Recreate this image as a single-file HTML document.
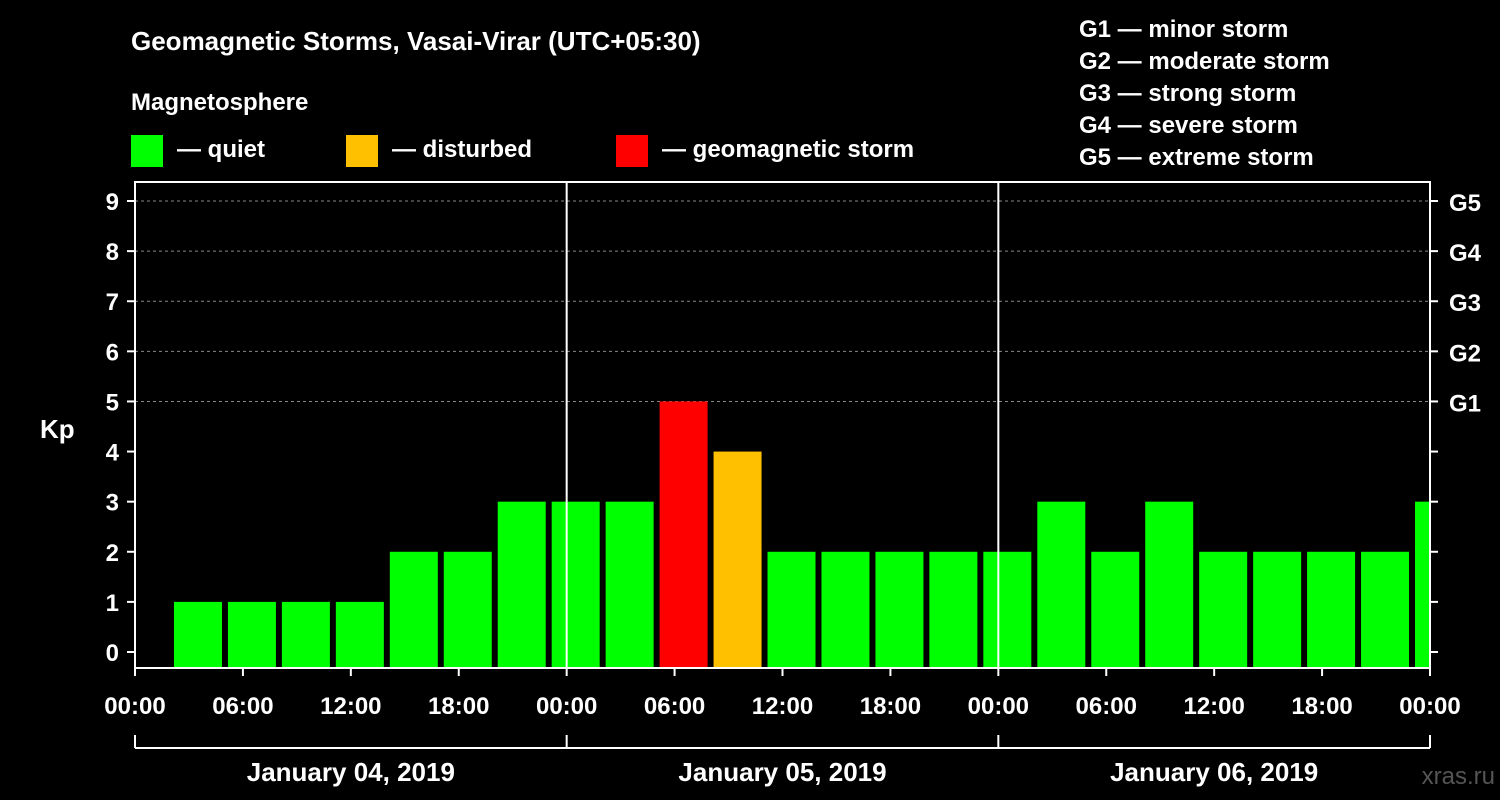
<!DOCTYPE html>
<html><head><meta charset="utf-8"><style>
html,body{margin:0;padding:0;background:#000;}
svg{display:block;font-family:"Liberation Sans",Arial,sans-serif;font-weight:bold;}
</style></head><body>
<svg id="c" width="1500" height="800" viewBox="0 0 1500 800">
<rect width="1500" height="800" fill="#000"/>
<text x="131" y="50" fill="#fff" font-size="26">Geomagnetic Storms, Vasai-Virar (UTC+05:30)</text>
<text x="131" y="110" fill="#fff" font-size="24">Magnetosphere</text>
<g><rect x="131" y="135" width="32" height="32" fill="#00ff00"/><text x="177" y="157" fill="#fff" font-size="24">— quiet</text></g>
<g><rect x="346" y="135" width="32" height="32" fill="#ffc000"/><text x="392" y="157" fill="#fff" font-size="24">— disturbed</text></g>
<g><rect x="616" y="135" width="32" height="32" fill="#ff0000"/><text x="662" y="157" fill="#fff" font-size="24">— geomagnetic storm</text></g>
<g fill="#fff" font-size="24">
<text x="1079" y="37">G1 — minor storm</text>
<text x="1079" y="69">G2 — moderate storm</text>
<text x="1079" y="101">G3 — strong storm</text>
<text x="1079" y="133">G4 — severe storm</text>
<text x="1079" y="165">G5 — extreme storm</text>
</g>
<text x="40" y="438" fill="#fff" font-size="26">Kp</text>
<text x="1495" y="784" fill="#555" font-size="24" text-anchor="end" font-weight="normal">xras.ru</text>
<g id="plot"></g>
</svg>
<script>
const kpValues=[1,1,1,1,2,2,3,3,3,5,4,2,2,2,2,2,3,2,3,2,2,2,2,3];
const yTicks=[0,1,2,3,4,5,6,7,8,9];
const gLabels=["G1","G2","G3","G4","G5"];
const xTickLabels=["00:00","06:00","12:00","18:00","00:00","06:00","12:00","18:00","00:00","06:00","12:00","18:00","00:00"];
const dayLabels=["January 04, 2019","January 05, 2019","January 06, 2019"];
const firstBarHour=2.1667;
const ns="http://www.w3.org/2000/svg";
const L=135,R=1430,T=182,B=668;
const xs=h=>L+h*(R-L)/72;
const ys=v=>652-v*50.11;
const g=document.getElementById('plot');
function mk(t,a,p){const e=document.createElementNS(ns,t);for(const k in a)e.setAttribute(k,a[k]);(p||g).appendChild(e);return e;}
// grid
yTicks.forEach(v=>{if(v>=5){const l=mk('line',{x1:L,x2:R,y1:ys(v),y2:ys(v),stroke:'#888','stroke-dasharray':'3,3','stroke-width':1});

}});
// bars
kpValues.forEach((v,i)=>{const h0=firstBarHour+3*i;let x0=xs(h0),x1=Math.min(xs(h0)+48,R);
const col=v>=5?'#ff0000':(v>=4?'#ffc000':'#00ff00');
const r=mk('rect',{x:x0,y:ys(v),width:x1-x0,height:B-ys(v),fill:col});

});
// day separators
[1,2].forEach(d=>{const l=mk('line',{x1:xs(24*d),x2:xs(24*d),y1:T,y2:B,stroke:'#fff','stroke-width':2});

});
// frame
const f=mk('rect',{x:L,y:T,width:R-L,height:B-T,fill:'none',stroke:'#fff','stroke-width':2});


// y ticks
yTicks.forEach(v=>{const y=ys(v);
mk('line',{x1:L-8,x2:L,y1:y,y2:y,stroke:'#fff','stroke-width':2});
mk('line',{x1:R,x2:R+8,y1:y,y2:y,stroke:'#fff','stroke-width':2});
const t=mk('text',{x:L-16,y:y+9,fill:'#fff','font-size':24,'text-anchor':'end'});t.textContent=v;

});
gLabels.forEach((s,i)=>{const t=mk('text',{x:R+19,y:ys(5+i)+10,fill:'#fff','font-size':24});t.textContent=s;

});
// x ticks
xTickLabels.forEach((s,i)=>{const x=xs(6*i);
mk('line',{x1:x,x2:x,y1:B,y2:B+8,stroke:'#fff','stroke-width':2});
const t=mk('text',{x:x,y:714,fill:'#fff','font-size':24,'text-anchor':'middle'});t.textContent=s;

});
// day bracket
mk('line',{x1:L,x2:R,y1:748,y2:748,stroke:'#fff','stroke-width':2});
[0,1,2,3].forEach(d=>mk('line',{x1:xs(24*d),x2:xs(24*d),y1:735,y2:748,stroke:'#fff','stroke-width':2}));
dayLabels.forEach((s,i)=>{const t=mk('text',{x:xs(24*i+12),y:781,fill:'#fff','font-size':26,'text-anchor':'middle'});t.textContent=s;

});
</script>
</body></html>
